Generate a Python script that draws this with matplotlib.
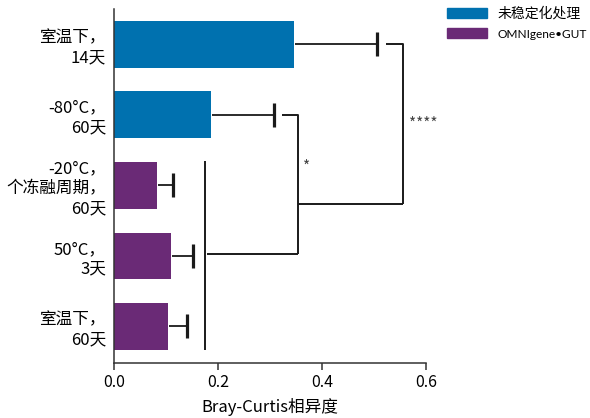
# -*- coding: utf-8 -*-
"""
不同保存条件下样本的 Bray-Curtis 相异度条形图
"""
import numpy as np
import matplotlib
matplotlib.use('Agg')
import matplotlib.pyplot as plt
from matplotlib.patches import Patch

plt.rcParams['font.family'] = ['Noto Sans CJK SC', 'DejaVu Sans']

# 数据
conditions = ['室温下，\n14天', '-80°C，\n60天', '-20°C，\n个冻融周期，\n60天',
              '50°C，\n3天', '室温下，\n60天']
groups = ['未稳定化处理', '未稳定化处理', 'OMNIgene•GUT', 'OMNIgene•GUT', 'OMNIgene•GUT']
means = [0.345, 0.186, 0.083, 0.109, 0.103]
errors = [0.161, 0.122, 0.030, 0.042, 0.037]
group_colors = {'未稳定化处理': '#0071AF', 'OMNIgene•GUT': '#6A2A76'}

# 显著性标注: (x, y起点, y终点, 左侧短线起点x, 标记)
brackets = [
    (0.354, 1.0, 2.98, 0.323, '*'),
    (0.555, 0.0, 2.26, 0.522, '****'),
]
group_line_x = 0.174

fig = plt.figure(figsize=(5.9, 4.18), dpi=100)
ax = fig.add_axes([0.1937, 0.1316, 0.5289, 0.8469])

pos = np.arange(len(conditions))
colors = [group_colors[g] for g in groups]
ax.barh(pos, means, height=0.66, color=colors, zorder=2)

# 单侧误差线（只画向右的一半）
ends = np.array(means) + np.array(errors)
ax.hlines(pos, np.array(means) + 0.002, ends, color='#1a1a1a', lw=1.3, zorder=3)
ax.plot(ends, pos, ls='none', marker='|', markersize=17, mew=2.3,
        color='#1a1a1a', zorder=3)

# 分组竖线及显著性括号
line_kw = dict(color='#1a1a1a', lw=1.4, solid_capstyle='butt', clip_on=False)
ax.plot([group_line_x, group_line_x], [1.65, 4.33], **line_kw)
ax.plot([group_line_x + 0.004, brackets[0][0]], [2.98, 2.98], **line_kw)
ax.plot([brackets[0][0], brackets[1][0]], [2.26, 2.26], **line_kw)
for x, y0, y1, x_start, mark in brackets:
    ax.plot([x_start, x, x], [y0, y0, y1], **line_kw)
ax.text(0.370, 1.74, '*', fontsize=11, color='#444444', ha='center', va='center')
ax.text(0.567, 1.14, '****', fontsize=11, color='#444444', ha='left', va='center')

ax.set_xlim(0, 0.6)
ax.set_ylim(4.52, -0.50)
ax.set_xticks([0.0, 0.2, 0.4, 0.6])
ax.set_xticklabels(['0.0', '0.2', '0.4', '0.6'], fontsize=11.5)
ax.set_yticks(pos)
ax.set_yticklabels(conditions, fontsize=12, linespacing=1.22)
ax.tick_params(axis='y', length=0, pad=6)
ax.tick_params(axis='x', length=5, width=1.1, color='#333333', pad=3)
ax.set_xlabel('Bray-Curtis相异度', fontsize=12, labelpad=5)

for side in ('top', 'right'):
    ax.spines[side].set_visible(False)
for side in ('left', 'bottom'):
    ax.spines[side].set_linewidth(1.1)
    ax.spines[side].set_color('#333333')

handles = [Patch(color=c, label=g) for g, c in group_colors.items()]
leg = fig.legend(handles=handles, loc='upper left', bbox_to_anchor=(0.757, 0.984),
                 frameon=False, fontsize=10,
                 handlelength=2.9, handleheight=0.8, handletextpad=0.75,
                 labelspacing=0.5, borderpad=0, borderaxespad=0)
# 英文图例用较窄的字体，避免超出右边界
leg.get_texts()[1].set_fontfamily(['Lato', 'Noto Sans CJK SC'])
leg.get_texts()[1].set_fontsize(8.6)

plt.savefig('out.png', dpi=100)
plt.close()
